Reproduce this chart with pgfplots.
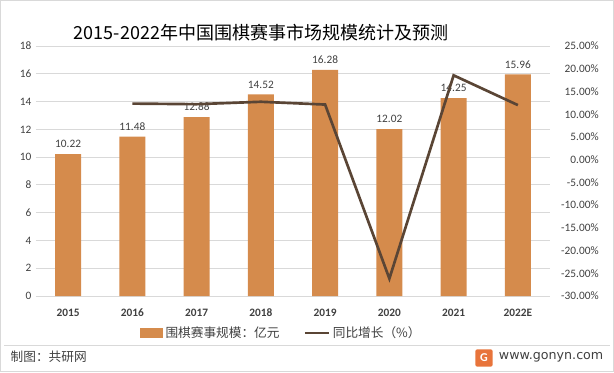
\documentclass[border=0pt]{standalone}
\usepackage{pgfplots}
\pgfplotsset{compat=1.18}
\usepackage{fontspec}
\setmainfont{Carlito}
\newfontfamily\cjk{Noto Sans CJK SC}
\newfontfamily\webfont{DejaVu Sans}
\definecolor{barc}{HTML}{D58B4C}
\definecolor{linec}{HTML}{5A4535}
\definecolor{gridc}{HTML}{D9D9D9}
\definecolor{txt}{HTML}{404040}
\definecolor{logoc}{HTML}{E8743B}
\begin{document}
\begin{tikzpicture}[x=0.75pt,y=0.75pt]
\path[use as bounding box] (0,0) rectangle (614,372);
\draw[gridc] (0.5,0.5) rectangle (613.5,371.5);
\draw[gridc] (4,27) -- (610,27);
\node[font=\cjk\fontsize{13.5}{15}\selectfont, text=black] at (261,339) {2015-2022年中国围棋赛事市场规模统计及预测};
\node[anchor=west, font=\cjk\fontsize{9.5}{11}\selectfont, text=txt] at (6,15) {制图：共研网};
\node[anchor=east, font=\webfont\fontsize{9.5}{11}\selectfont, text=txt] at (608,15) {www.gonyn.com};
\node[fill=logoc, rounded corners=1.5pt, minimum width=13pt, minimum height=13pt, inner sep=0pt, text=white, font=\bfseries\fontsize{9}{10}\selectfont] at (484,14) {G};
\begin{axis}[at={(27pt,57pt)}, anchor=south west, scale only axis,
  width=385.5pt, height=187.5pt,
  /pgf/number format/assume math mode=true,
  xmin=-0.5, xmax=7.5, ymin=0, ymax=18, ytick={0,2,...,18},
  xtick={0,...,7}, xticklabels={2015,2016,2017,2018,2019,2020,2021,2022E},
  axis line style={draw=none}, major tick length=0pt,
  ymajorgrids, grid style={gridc, line width=0.6pt},
  ticklabel style={font=\fontsize{8.5}{10}\selectfont, text=txt},
  xticklabel style={yshift=-6pt, font=\bfseries\fontsize{8.5}{10}\selectfont},
  legend style={at={(0.478,-0.148)}, anchor=center, draw=none, fill=none,
    legend columns=2, font=\cjk\fontsize{9.5}{11}\selectfont, text=txt,
    /tikz/every even column/.append style={column sep=16pt}},
  legend cell align=left,
]
\addplot[ybar, bar width=19.5pt, fill=barc, draw=none,
  nodes near coords, nodes near coords style={font=\fontsize{8.5}{10}\selectfont, text=txt, yshift=1pt, /pgf/number format/.cd, fixed, fixed zerofill, precision=2, assume math mode=true},
  area legend,
  legend image code/.code={\fill[barc] (0pt,-4pt) rectangle (17pt,4pt);}]
coordinates {(0,10.22) (1,11.48) (2,12.88) (3,14.52) (4,16.28) (5,12.02) (6,14.25) (7,15.96)};
\addlegendentry{围棋赛事规模：亿元}
\addlegendimage{linec, line width=2pt, legend image code/.code={\draw[linec, line width=2pt] (0pt,0pt) -- (18pt,0pt);}}
\addlegendentry{同比增长（\%）}
\end{axis}
\begin{axis}[at={(27pt,57pt)}, anchor=south west, scale only axis,
  width=385.5pt, height=187.5pt,
  /pgf/number format/assume math mode=true,
  xmin=-0.5, xmax=7.5, ymin=-30, ymax=25, ytick={-30,-25,...,25},
  axis y line*=right, axis x line=none,
  axis line style={draw=none}, major tick length=0pt,
  ticklabel style={font=\fontsize{8.5}{10}\selectfont, text=txt},
  yticklabel={\pgfmathprintnumber[fixed,fixed zerofill,precision=2,assume math mode=true]{\tick}\%},
  yticklabel style={anchor=east, xshift=40pt},
]
\addplot[linec, line width=2pt, mark=none] coordinates {(1,12.33) (2,12.20) (3,12.73) (4,12.12) (5,-26.17) (6,18.55) (7,12.00)};
\end{axis}
\end{tikzpicture}
\end{document}
